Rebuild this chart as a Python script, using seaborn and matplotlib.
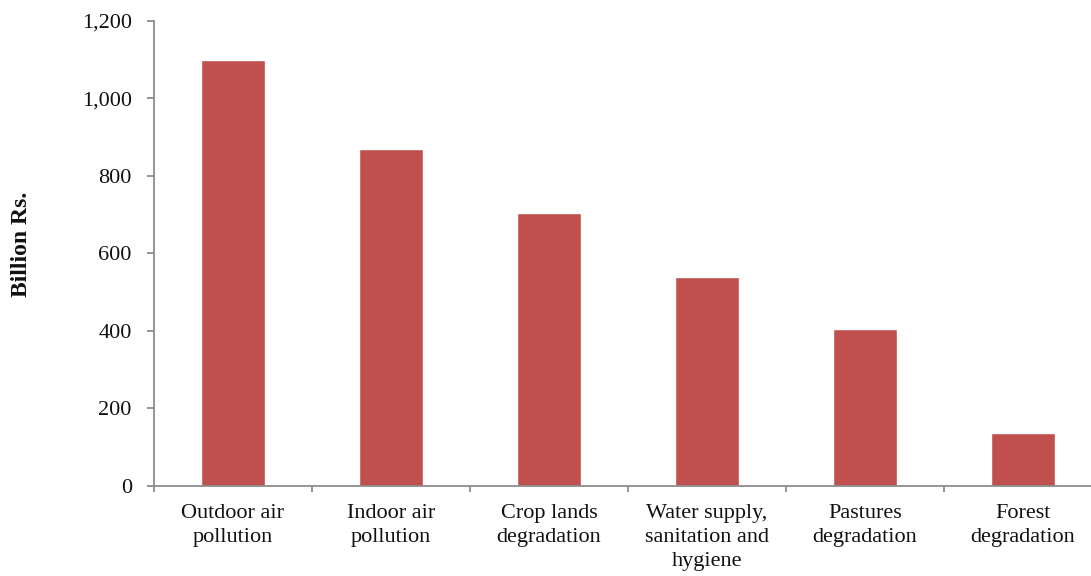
import matplotlib
matplotlib.use("Agg")
import matplotlib.pyplot as plt
import seaborn as sns
import pandas as pd
import numpy as np

# Cost of environmental degradation by category
categories = [
    "Outdoor air\npollution",
    "Indoor air\npollution",
    "Crop lands\ndegradation",
    "Water supply,\nsanitation and\nhygiene",
    "Pastures\ndegradation",
    "Forest\ndegradation",
]
values = [1097, 868, 703, 538, 404, 136]
y_ticks = [0, 200, 400, 600, 800, 1000, 1200]
y_tick_labels = ["0", "200", "400", "600", "800", "1,000", "1,200"]

sns.set_theme(style="white")
plt.rcParams["font.family"] = ["Liberation Serif", "DejaVu Serif"]

df = pd.DataFrame({"category": categories, "value": values})

fig = plt.figure(figsize=(10.91, 5.76), dpi=100)
W, H = 1091, 576
left, right, top, bottom = 154, 1102, 20.5, 486
ax = fig.add_axes([left / W, 1 - bottom / H, (right - left) / W, (bottom - top) / H])

sns.barplot(data=df, x="category", y="value", color="#C0504D", width=0.4,
            saturation=1, ax=ax)

axis_gray = "#8C8C8C"
ax.set_xlim(-0.5, len(categories) - 0.5)
ax.set_ylim(0, 1200)
ax.set_yticks(y_ticks)
ax.set_yticklabels(y_tick_labels, fontsize=16, color="#111111")

ax.set_xticks(range(len(categories)))
ax.set_xticklabels(categories, fontsize=16, color="#111111", linespacing=1.36)
ax.set_xticks(np.arange(-0.5, len(categories), 1.0), minor=True)
ax.tick_params(axis="x", which="major", length=0, pad=13)
ax.tick_params(axis="x", which="minor", length=4.5, width=1.3, color=axis_gray,
               direction="out", bottom=True)
ax.tick_params(axis="y", which="major", length=5, width=1.3, color=axis_gray,
               direction="out", left=True, pad=11)

for side in ["top", "right"]:
    ax.spines[side].set_visible(False)
for side in ["left", "bottom"]:
    ax.spines[side].set_color(axis_gray)
    ax.spines[side].set_linewidth(1.3)

ax.set_xlabel("")
ax.set_ylabel("")
fig.text(22 / W, 1 - 244 / H, "Billion Rs.", rotation=90, ha="center", va="center",
         fontsize=17, fontweight="bold", color="#111111")

fig.savefig("out.png", dpi=100)
